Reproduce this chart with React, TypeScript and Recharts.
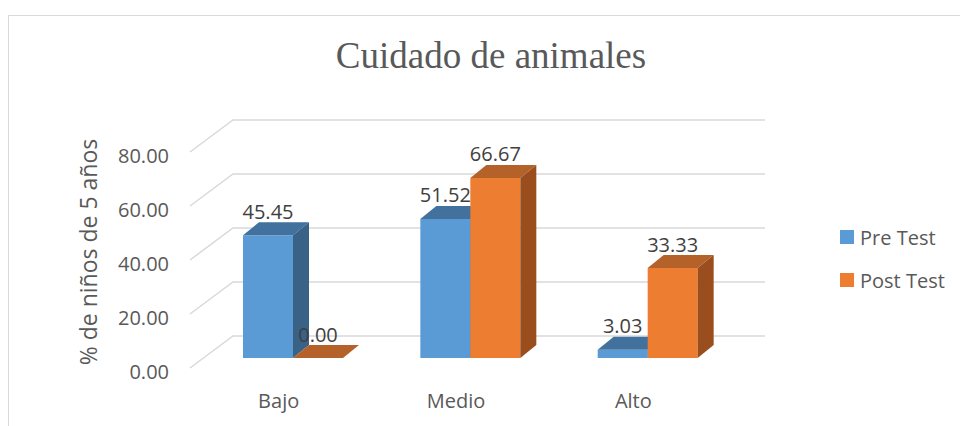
import { BarChart, Bar, XAxis, YAxis, CartesianGrid, LabelList } from "recharts";

const categories = ["Bajo", "Medio", "Alto"];
const preTest = [45.45, 51.52, 3.03];
const postTest = [0.0, 66.67, 33.33];
const yTicks = [0, 20, 40, 60, 80];
const seriesNames = ["Pre Test", "Post Test"];

const data = categories.map((name, i) => ({ name, pre: preTest[i], post: postTest[i] }));

const FONT = "'Open Sans', 'Noto Sans', sans-serif";
const TEXT = "#595959";

// fake 3d: bar depth and the floor/wall offsets from the bar plane
const DX = 16;
const DY = 13;
const FRONT_X = -14;
const FRONT_Y = 10;
const BACK_X = 29;
const BACK_Y = -22;

const colors = {
    pre: { front: "#5B9BD5", top: "#41719C", side: "#3A6186" },
    post: { front: "#ED7D31", top: "#B5622A", side: "#9A4E1D" },
};

function makeBar3D(c: { front: string; top: string; side: string }) {
    return (props: any) => {
        const x = Number(props.x);
        const y = Number(props.y);
        const w = Number(props.width);
        const h = Number(props.height);
        if (!isFinite(x) || !isFinite(y)) return <g />;
        return (
            <g>
                <rect x={x} y={y} width={w} height={h} fill={c.front} />
                <polygon
                    points={`${x},${y} ${x + DX},${y - DY} ${x + w + DX},${y - DY} ${x + w},${y}`}
                    fill={c.top}
                />
                <polygon
                    points={`${x + w},${y} ${x + w + DX},${y - DY} ${x + w + DX},${y + h - DY} ${x + w},${y + h}`}
                    fill={c.side}
                />
            </g>
        );
    };
}

const renderValue = (props: any) => {
    const x = Number(props.x);
    const y = Number(props.y);
    const w = Number(props.width);
    return (
        <text
            x={x + w / 2}
            y={y - 24}
            textAnchor="middle"
            dominantBaseline="central"
            fill="#404040"
            fontSize={20}
            fontFamily={FONT}
        >
            {Number(props.value).toFixed(2)}
        </text>
    );
};

const renderGridLine = (p: any) => {
    const y = Number(p.y1);
    const x1 = Number(p.x1);
    const x2 = Number(p.x2);
    return (
        <polyline
            key={`grid-${y}`}
            points={`${x1 + FRONT_X},${y + FRONT_Y} ${x1 + BACK_X},${y + BACK_Y} ${x2 + BACK_X},${y + BACK_Y}`}
            fill="none"
            stroke="#D9D9D9"
            strokeWidth={1.5}
        />
    );
};

const renderYTick = (props: any) => {
    const y = Number(props.y);
    return (
        <text
            x={169}
            y={y + FRONT_Y + 3}
            textAnchor="end"
            dominantBaseline="central"
            fill={TEXT}
            fontSize={20}
            fontFamily={FONT}
        >
            {Number(props.payload.value).toFixed(2)}
        </text>
    );
};

const renderXTick = (props: any) => {
    const x = Number(props.payload.coordinate);
    return (
        <text
            x={x + FRONT_X}
            y={400}
            textAnchor="middle"
            dominantBaseline="central"
            fill={TEXT}
            fontSize={20}
            fontFamily={FONT}
        >
            {props.payload.value}
        </text>
    );
};

export default function App() {
    return (
        <div
            style={{
                position: "absolute",
                left: 0,
                top: 0,
                width: 960,
                height: 426,
                background: "#fff",
                overflow: "hidden",
            }}
        >
            <div
                style={{
                    position: "absolute",
                    left: 8,
                    top: 15,
                    right: -10,
                    bottom: -10,
                    borderLeft: "1.5px solid #D9D9D9",
                    borderTop: "1.5px solid #D9D9D9",
                }}
            />
            <div
                style={{
                    position: "absolute",
                    left: 0,
                    width: 982,
                    top: 34,
                    textAlign: "center",
                    fontFamily: "'Liberation Serif', 'Times New Roman', serif",
                    fontSize: 37,
                    color: TEXT,
                    lineHeight: "44px",
                }}
            >
                Cuidado de animales
            </div>
            <div
                style={{
                    position: "absolute",
                    left: 88 - 150,
                    top: 252 - 15,
                    width: 300,
                    height: 30,
                    lineHeight: "30px",
                    textAlign: "center",
                    transform: "rotate(-90deg)",
                    fontFamily: FONT,
                    fontSize: 23,
                    color: TEXT,
                    whiteSpace: "nowrap",
                }}
            >
                % de niños de 5 años
            </div>
            <div style={{ position: "absolute", left: 840, top: 222, fontFamily: FONT, fontSize: 20, color: TEXT }}>
                {seriesNames.map((s, i) => (
                    <div key={s} style={{ display: "flex", alignItems: "center", height: 30, marginBottom: 13 }}>
                        <span
                            style={{
                                display: "inline-block",
                                width: 14,
                                height: 14,
                                marginRight: 6,
                                background: i === 0 ? colors.pre.front : colors.post.front,
                            }}
                        />
                        {s}
                    </div>
                ))}
            </div>
            <div style={{ position: "absolute", left: 0, top: 0 }}>
                <BarChart
                    width={960}
                    height={426}
                    data={data}
                    margin={{ top: 142, right: 224, bottom: 28, left: 164 }}
                    barGap={0}
                    barSize={50}
                >
                    <CartesianGrid vertical={false} horizontal={renderGridLine} />
                    <XAxis
                        dataKey="name"
                        height={40}
                        axisLine={false}
                        tickLine={false}
                        tick={renderXTick}
                        interval={0}
                    />
                    <YAxis
                        width={40}
                        domain={[0, 80]}
                        ticks={yTicks}
                        interval={0}
                        axisLine={false}
                        tickLine={false}
                        tick={renderYTick}
                    />
                    <Bar dataKey="pre" shape={makeBar3D(colors.pre)} isAnimationActive={false}>
                        <LabelList dataKey="pre" content={renderValue} />
                    </Bar>
                    <Bar dataKey="post" shape={makeBar3D(colors.post)} isAnimationActive={false}>
                        <LabelList dataKey="post" content={renderValue} />
                    </Bar>
                </BarChart>
            </div>
        </div>
    );
}
